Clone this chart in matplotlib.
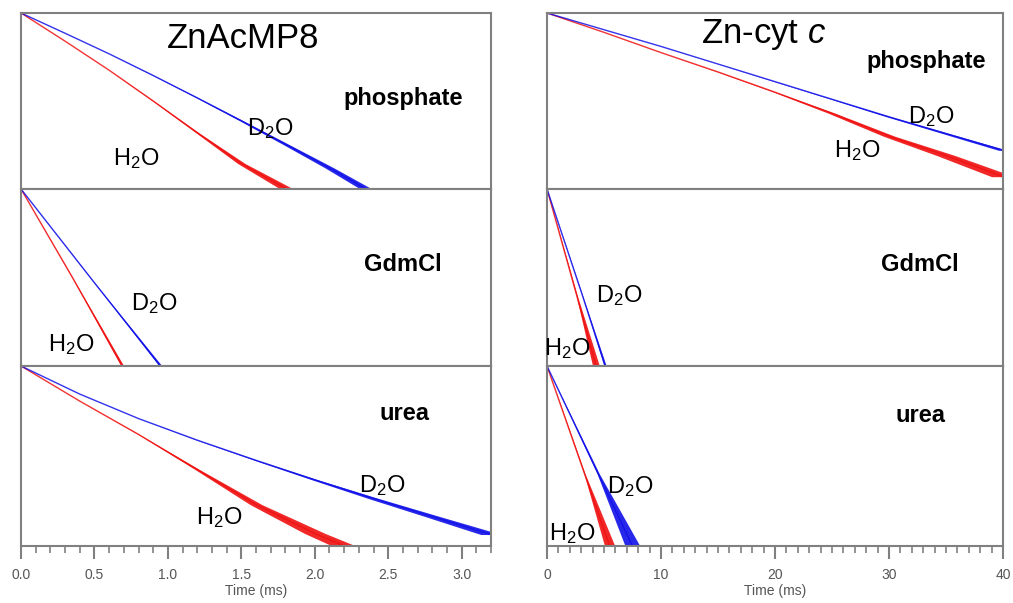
import matplotlib
matplotlib.use("Agg")
import matplotlib.pyplot as plt
from matplotlib.ticker import MultipleLocator, FormatStrFormatter

plt.rcParams['font.family'] = ['Liberation Sans', 'DejaVu Sans']
plt.rcParams['mathtext.fontset'] = 'custom'
plt.rcParams['mathtext.rm'] = 'Liberation Sans'
plt.rcParams['mathtext.it'] = 'Liberation Sans:italic'

# normalized log emission decays, 0 = start (top of panel), -1 = bottom of panel
# values; "spread" = half-width of the noisy tail in ms

# ZnAcMP8, phosphate
zp_d2o_t = [0, 0.3, 0.6, 0.9, 1.2, 1.5, 1.8, 2.1, 2.35]
zp_d2o_y = [0, -0.115, -0.232, -0.355, -0.482, -0.612, -0.745, -0.88, -1.0]
zp_d2o_s = [0, 0, 0, 0.003, 0.006, 0.012, 0.02, 0.03, 0.04]
zp_h2o_t = [0, 0.3, 0.6, 0.9, 1.2, 1.5, 1.81, 1.9]
zp_h2o_y = [0, -0.16, -0.325, -0.50, -0.68, -0.855, -1.0, -1.03]
zp_h2o_s = [0, 0, 0, 0.004, 0.01, 0.025, 0.045, 0.05]

# ZnAcMP8, GdmCl
zg_d2o_t = [0, 0.5, 0.95]
zg_d2o_y = [0, -0.53, -1.0]
zg_d2o_s = [0, 0.002, 0.01]
zg_h2o_t = [0, 0.35, 0.69]
zg_h2o_y = [0, -0.5, -1.0]
zg_h2o_s = [0, 0.002, 0.01]

# ZnAcMP8, urea
zu_d2o_t = [0, 0.4, 0.8, 1.2, 1.6, 2.0, 2.4, 2.8, 3.2]
zu_d2o_y = [0, -0.156, -0.292, -0.412, -0.524, -0.632, -0.736, -0.836, -0.936]
zu_d2o_s = [0, 0, 0, 0.004, 0.01, 0.02, 0.035, 0.05, 0.07]
zu_h2o_t = [0, 0.4, 0.8, 1.2, 1.6, 2.0, 2.2]
zu_h2o_y = [0, -0.195, -0.38, -0.575, -0.77, -0.93, -1.0]
zu_h2o_s = [0, 0, 0.003, 0.015, 0.04, 0.07, 0.08]

# Zn-cyt c, phosphate
cp_d2o_t = [0, 5, 10, 15, 20, 25, 30, 35, 40]
cp_d2o_y = [0, -0.095, -0.19, -0.29, -0.39, -0.49, -0.59, -0.685, -0.78]
cp_d2o_s = [0, 0, 0, 0, 0.05, 0.1, 0.2, 0.3, 0.4]
cp_h2o_t = [0, 5, 10, 15, 20, 25, 30, 35, 40]
cp_h2o_y = [0, -0.11, -0.225, -0.335, -0.45, -0.57, -0.70, -0.81, -0.93]
cp_h2o_s = [0, 0, 0, 0.05, 0.1, 0.3, 0.5, 0.8, 1.0]

# Zn-cyt c, GdmCl
cg_d2o_t = [0, 3.1, 5.1]
cg_d2o_y = [0, -0.6, -1.0]
cg_d2o_s = [0, 0.02, 0.1]
cg_h2o_t = [0, 2.6, 4.3]
cg_h2o_y = [0, -0.6, -1.0]
cg_h2o_s = [0, 0.05, 0.3]

# Zn-cyt c, urea
cu_d2o_t = [0, 4.5, 7.5]
cu_d2o_y = [0, -0.6, -1.0]
cu_d2o_s = [0, 0.1, 0.65]
cu_h2o_t = [0, 3.3, 5.5]
cu_h2o_y = [0, -0.6, -1.0]
cu_h2o_s = [0, 0.05, 0.45]

RED = '#f01010'
BLUE = '#1010e8'
GRAY = '#808080'

fig = plt.figure(figsize=(10.13, 6.03), dpi=100)

W, H = 1013.0, 603.0
cols = [(21, 470), (547, 456)]
rows = [(13, 176), (189, 177), (366, 180)]


def make_ax(col, row):
    x0, w = cols[col]
    y0, h = rows[row]
    ax = fig.add_axes([x0 / W, 1 - (y0 + h) / H, w / W, h / H])
    for sp in ax.spines.values():
        sp.set_color(GRAY)
        sp.set_linewidth(1.5)
    ax.set_ylim(-1, 0)
    ax.set_yticks([])
    return ax


def draw(ax, t, y, s, color):
    lo = [a - b for a, b in zip(t, s)]
    hi = [a + b for a, b in zip(t, s)]
    ax.fill_betweenx(y, lo, hi, color=color, lw=0, alpha=0.9)
    ax.plot(t, y, color=color, lw=1.0, alpha=0.85)


def lab(ax, x, y, text, size=17, weight='normal', ha='center'):
    ax.text(x, y, text, transform=ax.transAxes, ha=ha, va='baseline',
            fontsize=size, fontweight=weight, color='black')


panels = [
    (0, 0, zp_d2o_t, zp_d2o_y, zp_d2o_s, zp_h2o_t, zp_h2o_y, zp_h2o_s),
    (0, 1, zg_d2o_t, zg_d2o_y, zg_d2o_s, zg_h2o_t, zg_h2o_y, zg_h2o_s),
    (0, 2, zu_d2o_t, zu_d2o_y, zu_d2o_s, zu_h2o_t, zu_h2o_y, zu_h2o_s),
    (1, 0, cp_d2o_t, cp_d2o_y, cp_d2o_s, cp_h2o_t, cp_h2o_y, cp_h2o_s),
    (1, 1, cg_d2o_t, cg_d2o_y, cg_d2o_s, cg_h2o_t, cg_h2o_y, cg_h2o_s),
    (1, 2, cu_d2o_t, cu_d2o_y, cu_d2o_s, cu_h2o_t, cu_h2o_y, cu_h2o_s),
]

axes = {}
for col, row, dt, dy, ds, ht, hy, hs in panels:
    ax = make_ax(col, row)
    xmax = 3.2 if col == 0 else 40
    ax.set_xlim(0, xmax)
    draw(ax, ht, hy, hs, RED)
    draw(ax, dt, dy, ds, BLUE)
    if row < 2:
        ax.set_xticks([])
    else:
        if col == 0:
            ax.xaxis.set_major_locator(MultipleLocator(0.5))
            ax.xaxis.set_minor_locator(MultipleLocator(0.1))
            ax.xaxis.set_major_formatter(FormatStrFormatter('%.1f'))
        else:
            ax.xaxis.set_major_locator(MultipleLocator(10))
            ax.xaxis.set_minor_locator(MultipleLocator(1))
        ax.tick_params(axis='x', which='major', length=9, width=1.5,
                       color=GRAY, labelcolor='#555555', labelsize=10, pad=7)
        ax.tick_params(axis='x', which='minor', length=5, width=1.2, color=GRAY)
        ax.set_xlabel('Time (ms)', fontsize=10, color='#555555', labelpad=1)
    axes[(col, row)] = ax

D2O = r'D$_2$O'
H2O = r'H$_2$O'

# ZnAcMP8 column
a = axes[(0, 0)]
lab(a, 0.472, 0.80, 'ZnAcMP8', size=25)
lab(a, 0.813, 0.477, 'phosphate', weight='bold')
lab(a, 0.530, 0.307, D2O)
lab(a, 0.245, 0.136, H2O)
a = axes[(0, 1)]
lab(a, 0.813, 0.537, 'GdmCl', weight='bold')
lab(a, 0.283, 0.316, D2O)
lab(a, 0.106, 0.085, H2O)
a = axes[(0, 2)]
lab(a, 0.817, 0.70, 'urea', weight='bold')
lab(a, 0.768, 0.30, D2O)
lab(a, 0.421, 0.12, H2O)

# Zn-cyt c column
a = axes[(1, 0)]
lab(a, 0.476, 0.83, r'Zn-cyt $c$', size=25)
lab(a, 0.831, 0.687, 'phosphate', weight='bold')
lab(a, 0.842, 0.375, D2O)
lab(a, 0.680, 0.18, H2O)
a = axes[(1, 1)]
lab(a, 0.818, 0.537, 'GdmCl', weight='bold')
lab(a, 0.158, 0.36, D2O)
lab(a, 0.044, 0.06, H2O)
a = axes[(1, 2)]
lab(a, 0.818, 0.69, 'urea', weight='bold')
lab(a, 0.182, 0.294, D2O)
lab(a, 0.055, 0.03, H2O)

fig.savefig('out.png', dpi=100)
